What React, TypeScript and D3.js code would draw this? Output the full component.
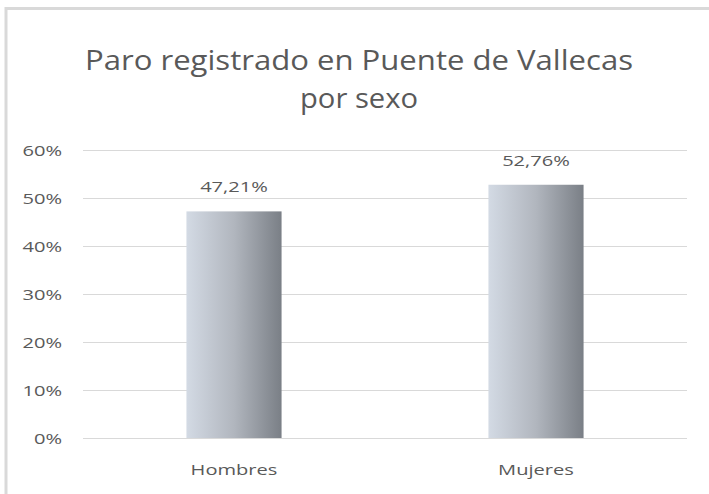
import React, { useEffect, useRef } from 'react';
import * as d3 from 'd3';

const categories = ['Hombres', 'Mujeres'];
const values = [47.21, 52.76];
const yTicks = [0, 10, 20, 30, 40, 50, 60];
const titleLines = ['Paro registrado en Puente de Vallecas', 'por sexo'];

const sizing = {
  width: 709,
  height: 494,
  left: 83,
  right: 687,
  top: 150,
  bottom: 438,
};

const textStyle = {
  color: '#595959',
  font: '"Open Sans", "Liberation Sans", sans-serif',
  size: '15px',
  stretch: 1.34,
};

export default function App() {
  const ref = useRef<SVGSVGElement>(null);

  useEffect(() => {
    const svg = d3.select(ref.current);
    svg.selectAll('*').remove();

    const xScale = d3.scaleBand<string>()
      .domain(categories)
      .range([sizing.left, sizing.right])
      .paddingInner(0.685)
      .paddingOuter(0.3425);

    const yScale = d3.scaleLinear()
      .domain([0, 60])
      .range([sizing.bottom, sizing.top]);

    const defs = svg.append('defs');
    const grad = defs.append('linearGradient')
      .attr('id', 'barGrad')
      .attr('x1', '0%').attr('x2', '100%')
      .attr('y1', '0%').attr('y2', '0%');
    grad.append('stop').attr('offset', '0%').attr('stop-color', '#d3dae4');
    grad.append('stop').attr('offset', '50%').attr('stop-color', '#b1b6be');
    grad.append('stop').attr('offset', '100%').attr('stop-color', '#7a7f86');

    // frame
    svg.append('rect')
      .attr('x', 0).attr('y', 0)
      .attr('width', sizing.width).attr('height', sizing.height)
      .attr('fill', '#ffffff');
    svg.append('line')
      .attr('x1', 6).attr('x2', sizing.width)
      .attr('y1', 8.5).attr('y2', 8.5)
      .attr('stroke', '#d9d9d9').attr('stroke-width', 3);
    svg.append('line')
      .attr('x1', 6).attr('x2', 6)
      .attr('y1', 7).attr('y2', sizing.height)
      .attr('stroke', '#d9d9d9').attr('stroke-width', 3);

    // title
    svg.selectAll('.title')
      .data(titleLines)
      .enter()
      .append('text')
      .attr('class', 'title')
      .attr('x', 359)
      .attr('y', (_d, i) => 70 + i * 38)
      .attr('text-anchor', 'middle')
      .attr('font-family', textStyle.font)
      .attr('font-size', '27px')
      .attr('fill', textStyle.color)
      .attr('textLength', (_d, i) => (i === 0 ? 548 : 118))
      .attr('lengthAdjust', 'spacingAndGlyphs')
      .text(d => d);

    // small labels are horizontally stretched like the original
    const label = (g: d3.Selection<SVGGElement, unknown, null, undefined>, x: number, y: number, anchor: string, txt: string) => {
      g.append('text')
        .attr('transform', `translate(${x},${y}) scale(${textStyle.stretch},1)`)
        .attr('text-anchor', anchor)
        .attr('font-family', textStyle.font)
        .attr('font-size', textStyle.size)
        .attr('fill', textStyle.color)
        .text(txt);
    };

    // gridlines
    svg.append('g')
      .selectAll('line')
      .data(yTicks)
      .enter()
      .append('line')
      .attr('x1', sizing.left)
      .attr('x2', sizing.right)
      .attr('y1', d => Math.round(yScale(d)) + 0.5)
      .attr('y2', d => Math.round(yScale(d)) + 0.5)
      .attr('stroke', '#d9d9d9')
      .attr('stroke-width', 1);

    // y labels
    const yLabels = svg.append('g');
    yTicks.forEach(t => label(yLabels as any, 62, yScale(t) + 6, 'end', `${t}%`));

    // bars
    svg.append('g')
      .selectAll('rect')
      .data(values)
      .enter()
      .append('rect')
      .attr('x', (_d, i) => xScale(categories[i]) as number)
      .attr('y', d => yScale(d))
      .attr('width', xScale.bandwidth())
      .attr('height', d => sizing.bottom - yScale(d))
      .attr('fill', 'url(#barGrad)');

    // data labels
    const dataLabels = svg.append('g');
    values.forEach((v, i) => label(
      dataLabels as any,
      (xScale(categories[i]) as number) + xScale.bandwidth() / 2,
      yScale(v) - 19,
      'middle',
      `${v.toFixed(2).replace('.', ',')}%`,
    ));

    // category labels
    const catLabels = svg.append('g');
    categories.forEach(c => label(
      catLabels as any,
      (xScale(c) as number) + xScale.bandwidth() / 2,
      475,
      'middle',
      c,
    ));
  }, []);

  return (
    <svg
      ref={ref}
      width={sizing.width}
      height={sizing.height}
      style={{ position: 'absolute', left: 0, top: 0, display: 'block' }}
    />
  );
}
